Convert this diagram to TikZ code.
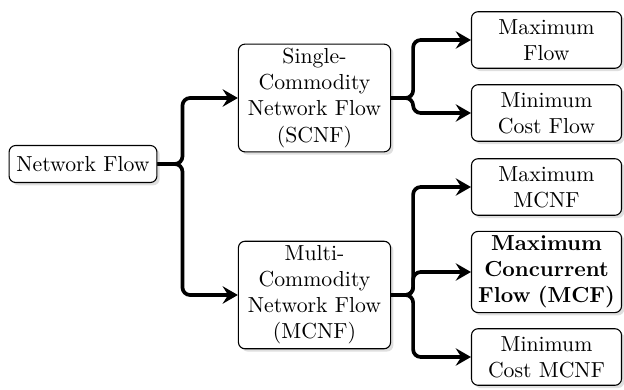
\documentclass[tikz,border=0pt]{standalone}
\usetikzlibrary{arrows.meta,shadows}

\tikzset{
    flowbox/.style={draw, rectangle, rounded corners=3pt, fill=white, align=center,
        inner sep=2pt, line width=0.5pt,
        drop shadow={shadow xshift=1.3pt, shadow yshift=-1.3pt, fill=black!25}},
    rootbox/.style={flowbox, minimum width=68pt, minimum height=17pt},
    midbox/.style={flowbox, text width=66pt, minimum height=46.5pt},
    leafbox/.style={flowbox, text width=65pt, minimum height=26pt},
    link/.style={line width=1.7pt, rounded corners=3.5pt,
        -{Stealth[length=7pt, width=8pt, inset=2.5pt]}}
}

\begin{document}
\begin{tikzpicture}[x=0.46pt, y=-0.46pt]
    \useasboundingbox (0,0) rectangle (624,390);

    % Nodes
    \node (net) [rootbox] at (83,164) {Network Flow};
    \node (scnf) [midbox] at (314.5,98) {Single-\\Commodity\\Network Flow\\(SCNF)};
    \node (mcnf) [midbox] at (314.5,295) {Multi-\\Commodity\\Network Flow\\(MCNF)};
    \node (maxflow) [leafbox] at (546.5,40) {Maximum\\Flow};
    \node (mincost) [leafbox] at (546.5,113) {Minimum\\Cost Flow};
    \node (maxmcnf) [leafbox] at (546.5,187) {Maximum\\MCNF};
    \node (mcf) [leafbox, minimum height=36pt, font=\bfseries] at (546.5,272) {Maximum\\Concurrent\\Flow (MCF)};
    \node (mincostmcnf) [leafbox] at (546.5,357) {Minimum\\Cost MCNF};

    % Arrows
    \draw[link] (net.east) -- ++(25,0) |- (scnf.west);
    \draw[link] (net.east) -- ++(25,0) |- (mcnf.west);
    \draw[link] (scnf.east) -- ++(22,0) |- (maxflow.west);
    \draw[link] (scnf.east) -- ++(22,0) |- (mincost.west);
    \draw[link] (mcnf.east) -- ++(22,0) |- (maxmcnf.west);
    \draw[link] (mcnf.east) -- ++(22,0) |- (mcf.west);
    \draw[link] (mcnf.east) -- ++(22,0) |- (mincostmcnf.west);
\end{tikzpicture}
\end{document}
